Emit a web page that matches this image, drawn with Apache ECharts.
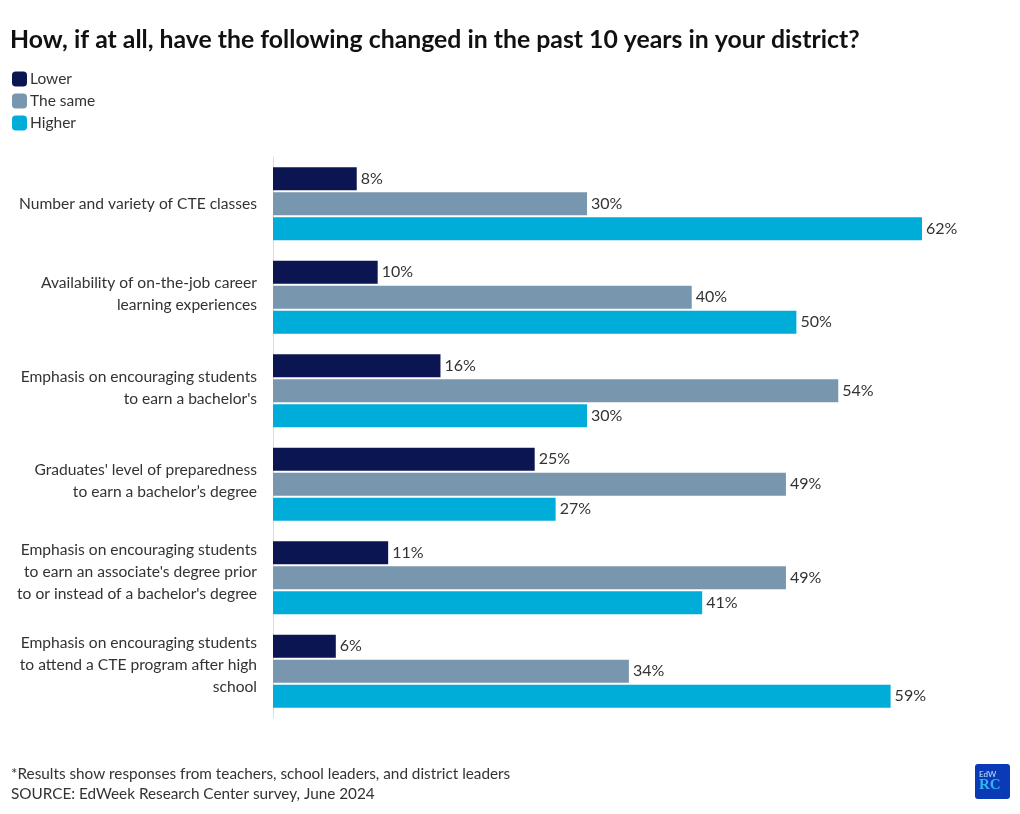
<!DOCTYPE html>
<html>
<head>
<meta charset="utf-8">
<script src="https://cdn.jsdelivr.net/npm/echarts@6/dist/echarts.min.js"></script>
<style>html,body{margin:0;padding:0;background:#fff}#c{width:1020px;height:814px}</style>
</head>
<body>
<div id="c"></div>
<script>
const categories = [
  "Number and variety of CTE classes",
  "Availability of on-the-job career\nlearning experiences",
  "Emphasis on encouraging students\nto earn a bachelor's",
  "Graduates' level of preparedness\nto earn a bachelor\u2019s degree",
  "Emphasis on encouraging students\nto earn an associate's degree prior\nto or instead of a bachelor's degree",
  "Emphasis on encouraging students\nto attend a CTE program after high\nschool"
];
const lower = [8, 10, 16, 25, 11, 6];
const same = [30, 40, 54, 49, 49, 34];
const higher = [62, 50, 30, 27, 41, 59];
const seriesNames = ["Lower", "The same", "Higher"];
const colors = ["#0a1551", "#7896ad", "#00acd8"];
const titleText = "How, if at all, have the following changed in the past 10 years in your district?";
const notes = ["*Results show responses from teachers, school leaders, and district leaders", "SOURCE: EdWeek Research Center survey, June 2024"];

const FONT = "Lato";
const chart = echarts.init(document.getElementById('c'), null, {renderer: 'canvas'});
const mk = (name, data, i) => ({
  name, type: 'bar', data,
  barWidth: 23, barGap: '9%',
  itemStyle: {color: colors[i]},
  label: {show: true, position: 'right', distance: 4, formatter: '{c}%', color: '#333', fontFamily: FONT, fontSize: 16},
  emphasis: {disabled: true}
});
chart.setOption({
  animation: false,
  textStyle: {fontFamily: FONT},
  title: {text: titleText, left: 5, top: 23, textStyle: {fontFamily: FONT, fontSize: 24.8, fontWeight: 'bold', color: '#111'}},
  legend: {
    orient: 'vertical', left: 7, top: 66, itemWidth: 15, itemHeight: 15, itemGap: 6,
    icon: 'roundRect', data: seriesNames,
    textStyle: {fontFamily: FONT, fontSize: 15.5, color: '#333', padding: [0,0,0,-2]}
  },
  grid: {left: 273, right: 98, top: 157, bottom: 96, containLabel: false},
  xAxis: {type: 'value', min: 0, max: 62, show: false},
  yAxis: {
    type: 'category', data: categories, inverse: true,
    axisLine: {show: true, lineStyle: {color: '#ddd'}},
    axisTick: {show: false},
    axisLabel: {
      fontFamily: FONT, fontSize: 15.6, color: '#333', lineHeight: 22, margin: 16, align: 'right',
      formatter: function (v) {
        const n = v.split('\n').length;
        const lines = v.split('\n').map(l => '{t|' + l + '}').join('\n');
        return n > 1 ? lines + '\n{s' + n + '|}' : lines;
      },
      rich: {
        t: {fontFamily: FONT, fontSize: 15.6, color: '#333', lineHeight: 22, align: 'right'},
        s2: {lineHeight: 6, height: 6, fontSize: 1},
        s3: {lineHeight: 12, height: 12, fontSize: 1}
      }
    }
  },
  series: [mk(seriesNames[0], lower, 0), mk(seriesNames[1], same, 1), mk(seriesNames[2], higher, 2)],
  graphic: [
    {type: 'text', left: 11, top: 767, style: {text: notes[0], font: '15.3px ' + FONT, fill: '#333'}},
    {type: 'text', left: 11, top: 787, style: {text: notes[1], font: '15.3px ' + FONT, fill: '#333'}},
    {type: 'rect', left: 975, top: 764, shape: {width: 35, height: 35, r: 3}, style: {fill: '#0a3ab5'}},
    {type: 'text', left: 979, top: 770, style: {text: 'EdW', font: '8px ' + FONT, fill: '#bfe6ff'}},
    {type: 'text', left: 979, top: 778, style: {text: 'RC', font: 'bold 15px serif', fill: '#2fb6f0'}}
  ]
});
</script>
</body>
</html>
